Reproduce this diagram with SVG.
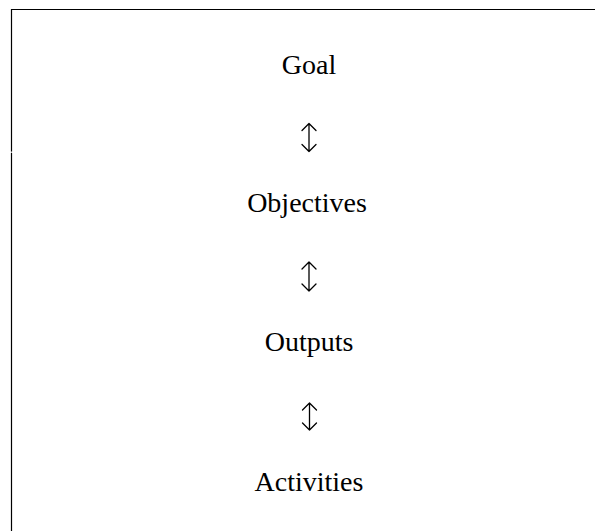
<svg xmlns="http://www.w3.org/2000/svg" width="595" height="531" viewBox="0 0 595 531">
<style>
.lbl{font-family:"Liberation Serif","Times New Roman",serif;font-size:28px;fill:#000;text-anchor:middle}
.frame{stroke:#000;stroke-width:1.2;fill:none}
.arr{stroke:#000;stroke-width:1.3;fill:none;stroke-linecap:round;stroke-linejoin:round}
</style>
<rect width="595" height="531" fill="#fff"/>
<g id="frame">
<line class="frame" x1="11" y1="9.5" x2="595" y2="9.5"/>
<line class="frame" x1="11.5" y1="9" x2="11.5" y2="151.6"/>
<line class="frame" x1="11.5" y1="152.8" x2="11.5" y2="531"/>
</g>
<g id="goal"><text class="lbl" x="309" y="74">Goal</text></g>
<g id="objectives"><text class="lbl" x="307" y="212">Objectives</text></g>
<g id="outputs"><text class="lbl" x="309" y="351">Outputs</text></g>
<g id="activities"><text class="lbl" x="309" y="491">Activities</text></g>
<g id="connectors">
<path class="arr" d="M309 123.5V151.5M302 130.5L309 123.5L316 130.5M302 144.5L309 151.5L316 144.5"/>
<path class="arr" d="M309 262V291M302 269L309 262L316 269M302 284L309 291L316 284"/>
<path class="arr" d="M309.5 403V430M302.5 410L309.5 403L316.5 410M302.5 423L309.5 430L316.5 423"/>
</g>
</svg>
